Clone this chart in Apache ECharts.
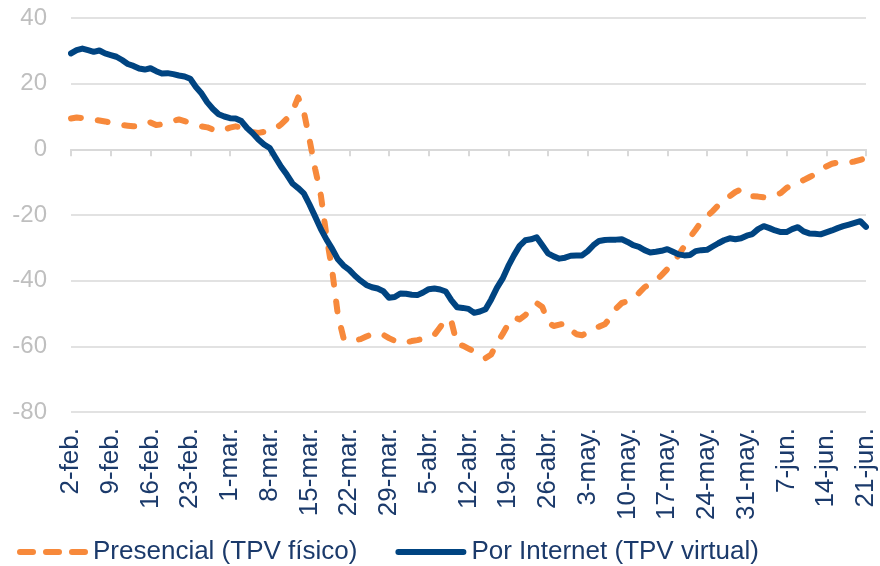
<!DOCTYPE html>
<html>
<head>
<meta charset="utf-8">
<script src="https://cdn.jsdelivr.net/npm/echarts@6/dist/echarts.min.js"></script>
<style>
  html, body { margin: 0; padding: 0; background: #fff; }
  #chart { width: 880px; height: 566px; }
</style>
</head>
<body>
<div id="chart"></div>
<script>
// fechas diarias 2-feb a 21-jun (2020)
var months = [['feb.', 2, 29], ['mar.', 1, 31], ['abr.', 1, 30], ['may.', 1, 31], ['jun.', 1, 21]];
var categories = [];
months.forEach(function (m) {
  for (var d = m[1]; d <= m[2]; d++) categories.push(d + '-' + m[0]);
});

var yTicks = [-80, -60, -40, -20, 0, 20, 40];

// Presencial (TPV físico)
var presencial = [
  9.4, 9.7, 9.5, 9.2, 9.0, 8.8, 8.5, 8.1, 7.7, 7.4,
  7.2, 7.0, 7.1, 7.3, 8.2, 7.4, 7.6, 8.2, 8.7, 9.1,
  8.6, 8.0, 7.5, 7.0, 6.7, 6.0, 5.5, 6.0, 6.6, 7.0,
  6.7, 6.0, 5.2, 5.0, 5.3, 5.9, 6.3, 7.6, 9.3, 11.5,
  15.8, 11.5, 3.0, -6.0, -14.0, -26.5, -37.0, -50.5, -57.5, -58.5,
  -58.1, -57.8, -57.0, -56.3, -56.0, -56.5, -57.5, -58.3, -59.0, -58.8,
  -58.4, -58.1, -57.7, -57.3, -56.5, -54.2, -51.5, -52.5, -59.5, -59.8,
  -60.7, -61.6, -62.8, -63.6, -62.5, -59.0, -56.3, -53.2, -51.2, -51.8,
  -50.5, -48.5, -46.8, -48.0, -52.7, -53.8, -53.4, -53.0, -55.0, -56.3,
  -56.6, -55.8, -54.5, -54.0, -53.3, -51.2, -48.5, -46.8, -46.3, -45.5,
  -43.8, -42.0, -41.0, -40.0, -38.3, -36.5, -34.7, -32.2, -29.5, -26.8,
  -24.5, -22.0, -20.5, -18.8, -17.0, -15.7, -14.3, -13.0, -12.2, -13.2,
  -14.3, -14.4, -14.6, -14.5, -14.0, -13.3, -11.8, -10.7, -10.0, -9.4,
  -8.5, -7.6, -6.3, -5.2, -4.4, -4.0, -4.0, -4.0, -3.7, -3.2,
  -2.7
];

// Por Internet (TPV virtual)
var internet = [
  29.2, 30.2, 30.7, 30.2, 29.7, 30.1, 29.2, 28.7, 28.2, 27.2,
  26.0, 25.4, 24.6, 24.3, 24.7, 23.8, 23.1, 23.2, 22.9, 22.5,
  22.2, 21.5, 19.0, 17.0, 14.3, 12.3, 10.7, 10.0, 9.5, 9.4,
  8.6, 6.5, 4.9, 3.0, 1.5, 0.4, -2.5, -5.3, -7.7, -10.4,
  -11.8, -13.4, -16.8, -20.5, -24.3, -27.5, -30.3, -33.5, -35.4, -36.7,
  -38.5, -40.0, -41.3, -42.0, -42.4, -43.2, -45.2, -45.0, -43.9, -44.0,
  -44.3, -44.4, -43.6, -42.6, -42.4, -42.7, -43.3, -46.0, -48.1, -48.3,
  -48.6, -49.8, -49.4, -48.7, -45.7, -42.2, -39.4, -35.6, -32.3, -29.4,
  -27.7, -27.4, -26.8, -29.2, -31.7, -32.6, -33.3, -33.0, -32.4, -32.3,
  -32.3, -31.0, -29.2, -27.9, -27.6, -27.5, -27.5, -27.4, -28.2, -29.2,
  -29.7, -30.7, -31.4, -31.2, -30.9, -30.4, -31.2, -32.0, -32.3, -32.2,
  -31.0, -30.7, -30.6, -29.6, -28.6, -27.7, -27.1, -27.4, -27.1, -26.3,
  -25.8, -24.3, -23.4, -24.0, -24.7, -25.2, -25.2, -24.3, -23.7, -25.0,
  -25.6, -25.7, -25.9, -25.3, -24.7, -24.0, -23.4, -22.9, -22.4, -21.9,
  -23.6
];

(function () {
  var myChart = echarts.init(document.getElementById('chart'));
  var textColor = '#1b3a6b';

  // iconos de la leyenda: tres guiones / linea continua
  var dashIcon = 'path://M3,0H16A3,3 0 0 1 16,6H3A3,3 0 0 1 3,0Z' +
    'M29,0H42A3,3 0 0 1 42,6H29A3,3 0 0 1 29,0Z' +
    'M55,0H68A3,3 0 0 1 68,6H55A3,3 0 0 1 55,0Z';
  var solidIcon = 'path://M3,0H68A3,3 0 0 1 68,6H3A3,3 0 0 1 3,0Z';

  var option = {
    animation: false,
    textStyle: { fontFamily: 'Liberation Sans, Arial, sans-serif' },
    color: ['#f7893b', '#004481'],
    grid: {
      left: 71,
      right: 14,
      top: 18,
      bottom: 154,
      containLabel: false,
      outerBoundsMode: 'none'
    },
    legend: {
      left: 12,
      top: 534,
      itemWidth: 71,
      itemHeight: 6,
      itemGap: 38,
      textStyle: { fontSize: 26, color: textColor },
      data: [
        { name: 'Presencial (TPV físico)', icon: dashIcon },
        { name: 'Por Internet (TPV virtual)', icon: solidIcon }
      ]
    },
    xAxis: [
      {
        // etiquetas abajo
        type: 'category',
        boundaryGap: false,
        data: categories,
        axisLine: { show: false, onZero: false },
        axisTick: { show: false },
        axisLabel: {
          interval: 6,
          rotate: 90,
          margin: 16,
          fontSize: 26,
          color: textColor
        }
      },
      {
        // linea del cero con marcas
        type: 'category',
        position: 'bottom',
        boundaryGap: false,
        data: categories,
        axisLine: {
          show: true,
          onZero: true,
          onZeroAxisIndex: 0,
          lineStyle: { color: '#d9d9d9', width: 2 }
        },
        axisTick: {
          show: true,
          interval: 6,
          length: 7,
          lineStyle: { color: '#d9d9d9', width: 2 }
        },
        axisLabel: { show: false },
        splitLine: { show: false }
      }
    ],
    yAxis: {
      type: 'value',
      min: yTicks[0],
      max: yTicks[yTicks.length - 1],
      interval: 20,
      axisLine: { show: false },
      axisTick: { show: false },
      axisLabel: {
        margin: 24,
        fontSize: 24,
        color: '#bfbfbf'
      },
      splitLine: {
        lineStyle: { color: '#d9d9d9', width: 1.5 }
      }
    },
    series: [
      {
        name: 'Presencial (TPV físico)',
        type: 'line',
        xAxisIndex: 0,
        data: presencial,
        symbol: 'none',
        lineStyle: {
          width: 6,
          type: [10, 17],
          cap: 'round',
          join: 'round'
        }
      },
      {
        name: 'Por Internet (TPV virtual)',
        type: 'line',
        xAxisIndex: 0,
        data: internet,
        symbol: 'none',
        lineStyle: {
          width: 6,
          cap: 'round',
          join: 'round'
        }
      }
    ]
  };

  myChart.setOption(option);
  window.addEventListener('resize', function () {
    myChart.resize();
  });
})();
</script>
</body>
</html>
